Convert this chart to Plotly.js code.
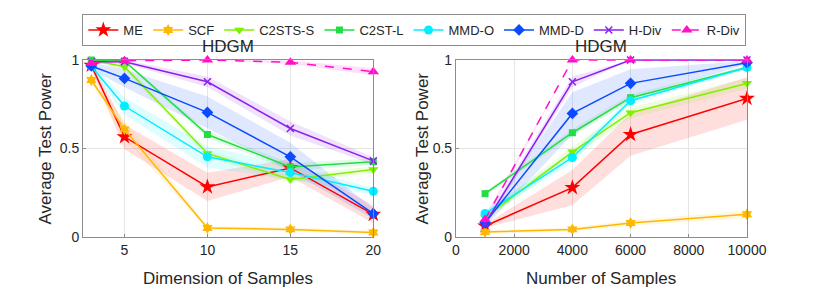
<!DOCTYPE html>
<html>
<head>
<meta charset="utf-8">
<script src="https://cdn.plot.ly/plotly-3.0.1.min.js"></script>
<style>html,body{margin:0;padding:0;background:#fff;}#chart{width:830px;height:297px;}</style>
</head>
<body>
<div id="chart"></div>
<script>
// ---- Data ----
const methods = ["ME", "SCF", "C2STS-S", "C2ST-L", "MMD-O", "MMD-D", "H-Div", "R-Div"];

// Left panel: dimension of samples
const dims = [3, 5, 10, 15, 20];
const dimME     = [0.97, 0.566, 0.283, 0.39, 0.128];
const dimSCF    = [0.887, 0.608, 0.051, 0.043, 0.025];
const dimC2STS  = [1.0, 0.962, 0.472, 0.325, 0.381];
const dimC2STL  = [1.0, 0.995, 0.579, 0.396, 0.425];
const dimMMDO   = [0.965, 0.74, 0.453, 0.364, 0.258];
const dimMMDD   = [0.966, 0.896, 0.704, 0.453, 0.132];
const dimHDiv   = [0.99, 0.99, 0.877, 0.613, 0.43];
const dimRDiv   = [0.982, 0.996, 1.0, 0.987, 0.934];

const dimSdME    = [0.02, 0.07, 0.08, 0.05, 0.05];
const dimSdSCF   = [0.02, 0.05, 0.01, 0.01, 0.01];
const dimSdC2STS = [0.005, 0.02, 0.02, 0.02, 0.02];
const dimSdC2STL = [0.005, 0.01, 0.02, 0.02, 0.02];
const dimSdMMDO  = [0.02, 0.05, 0.06, 0.04, 0.02];
const dimSdMMDD  = [0.02, 0.05, 0.09, 0.08, 0.03];
const dimSdHDiv  = [0.01, 0.01, 0.03, 0.04, 0.02];
const dimSdRDiv  = [0.01, 0.005, 0.0, 0.01, 0.02];

// Right panel: number of samples
const nSamples = [1000, 4000, 6000, 10000];
const nME    = [0.062, 0.279, 0.579, 0.783];
const nSCF   = [0.028, 0.043, 0.079, 0.128];
const nC2STS = [0.11, 0.481, 0.702, 0.868];
const nC2STL = [0.245, 0.589, 0.787, 0.958];
const nMMDO  = [0.133, 0.449, 0.77, 0.958];
const nMMDD  = [0.08, 0.698, 0.868, 0.985];
const nHDiv  = [0.075, 0.877, 1.0, 1.0];
const nRDiv  = [0.099, 1.0, 1.0, 1.0];

const nSdME    = [0.01, 0.1, 0.12, 0.12];
const nSdSCF   = [0.01, 0.01, 0.015, 0.02];
const nSdC2STS = [0.02, 0.03, 0.03, 0.03];
const nSdC2STL = [0.01, 0.02, 0.02, 0.01];
const nSdMMDO  = [0.02, 0.03, 0.02, 0.01];
const nSdMMDD  = [0.02, 0.12, 0.08, 0.01];
const nSdHDiv  = [0.02, 0.03, 0.0, 0.0];
const nSdRDiv  = [0.02, 0.0, 0.0, 0.0];

const yTickVals = [0, 0.5, 1];
const yTickText = ["0", "0.5", "1"];
const xLeftTicks = [5, 10, 15, 20];
const xRightTicks = [0, 2000, 4000, 6000, 8000, 10000];
const xRightTickText = ["0", "2000", "4000", "6000", "8000", "10000"];

// ---- Styles ----
const colors  = ["#FF0000", "#FFB800", "#7FF000", "#22DD44", "#00EEFF", "#0A4BFF", "#8A1FF0", "#FF10C8"];
const symbols = ["star", "hexagram", "triangle-down", "square", "circle", "diamond", "x-thin-open", "triangle-up"];
const sizes   = [12, 9, 9, 7, 9, 9, 7, 10];

const leftMeans  = [dimME, dimSCF, dimC2STS, dimC2STL, dimMMDO, dimMMDD, dimHDiv, dimRDiv];
const leftSds    = [dimSdME, dimSdSCF, dimSdC2STS, dimSdC2STL, dimSdMMDO, dimSdMMDD, dimSdHDiv, dimSdRDiv];
const rightMeans = [nME, nSCF, nC2STS, nC2STL, nMMDO, nMMDD, nHDiv, nRDiv];
const rightSds   = [nSdME, nSdSCF, nSdC2STS, nSdC2STL, nSdMMDO, nSdMMDD, nSdHDiv, nSdRDiv];

function rgba(hex, a) {
  const r = parseInt(hex.slice(1,3),16), g = parseInt(hex.slice(3,5),16), b = parseInt(hex.slice(5,7),16);
  return `rgba(${r},${g},${b},${a})`;
}

const traces = [];
function addBands(xs, means, sds, xa, ya) {
  means.forEach((m, i) => {
    const up = m.map((v, k) => Math.min(1, v + sds[i][k]));
    const lo = m.map((v, k) => Math.max(0, v - sds[i][k]));
    traces.push({
      x: xs.concat(xs.slice().reverse()),
      y: up.concat(lo.slice().reverse()),
      xaxis: xa, yaxis: ya,
      type: "scatter", mode: "lines", fill: "toself",
      fillcolor: rgba(colors[i], 0.13),
      line: {width: 0, color: rgba(colors[i], 0)},
      hoverinfo: "skip", showlegend: false
    });
  });
}
function addLines(xs, means, xa, ya, legend) {
  means.forEach((m, i) => {
    traces.push({
      x: xs, y: m, xaxis: xa, yaxis: ya,
      type: "scatter", mode: "lines+markers", cliponaxis: false,
      name: methods[i], showlegend: legend,
      line: {color: colors[i], width: 1.5, dash: i === 7 ? "dash" : "solid"},
      marker: {symbol: symbols[i], size: sizes[i], color: colors[i],
               line: {color: colors[i], width: i === 6 ? 1.5 : 0}}
    });
  });
}
addBands(dims, leftMeans, leftSds, "x", "y");
addBands(nSamples, rightMeans, rightSds, "x2", "y2");
addLines(dims, leftMeans, "x", "y", true);
addLines(nSamples, rightMeans, "x2", "y2", false);

const fontFam = "Liberation Sans, Arial, sans-serif";
const txt = "#262626";
const axisCommon = {
  showgrid: true, gridcolor: "#e6e6e6", gridwidth: 1,
  showline: true, linecolor: "#8c8c8c", linewidth: 1, mirror: true,
  zeroline: false, ticks: "inside", ticklen: 3, tickcolor: "#8c8c8c",
  tickfont: {family: fontFam, size: 14, color: txt}
};
const titleFont = {family: fontFam, size: 17, color: txt};

const layout = {
  width: 830, height: 297,
  margin: {l: 83, r: 83, t: 60, b: 60},
  paper_bgcolor: "#fff", plot_bgcolor: "#fff",
  font: {family: fontFam, color: txt},
  showlegend: true,
  legend: {
    orientation: "h", xref: "paper", yref: "paper",
    x: -0.001, xanchor: "left", y: 1 + 46 / 177, yanchor: "top",
    bordercolor: "#8c8c8c", borderwidth: 1, bgcolor: "#fff",
    font: {family: fontFam, size: 13, color: txt},
    itemwidth: 30, tracegroupgap: 0
  },
  xaxis: Object.assign({}, axisCommon, {
    domain: [0, 0.4372], range: [2.5, 20], tickvals: xLeftTicks
  }),
  yaxis: Object.assign({}, axisCommon, {
    range: [0, 1], tickvals: yTickVals, ticktext: yTickText
  }),
  xaxis2: Object.assign({}, axisCommon, {
    domain: [0.5617, 1], range: [0, 10000], tickvals: xRightTicks, ticktext: xRightTickText,
    anchor: "y2"
  }),
  yaxis2: Object.assign({}, axisCommon, {
    range: [0, 1], tickvals: yTickVals, ticktext: yTickText, anchor: "x2"
  }),
  annotations: [
    {text: "HDGM", xref: "x domain", yref: "paper", x: 0.5, y: 1.075, xanchor: "center", yanchor: "middle",
     showarrow: false, font: titleFont},
    {text: "HDGM", xref: "x2 domain", yref: "paper", x: 0.5, y: 1.075, xanchor: "center", yanchor: "middle",
     showarrow: false, font: titleFont},
    {text: "Dimension of Samples", xref: "x domain", yref: "paper", x: 0.5, y: -0.232, xanchor: "center", yanchor: "middle",
     showarrow: false, font: titleFont},
    {text: "Number of Samples", xref: "x2 domain", yref: "paper", x: 0.5, y: -0.232, xanchor: "center", yanchor: "middle",
     showarrow: false, font: titleFont},
    {text: "Average Test Power", xref: "paper", yref: "paper", x: (45 - 83) / 664, y: 0.5, xanchor: "center", yanchor: "middle",
     textangle: -90, showarrow: false, font: titleFont},
    {text: "Average Test Power", xref: "paper", yref: "paper", x: (422 - 83) / 664, y: 0.5, xanchor: "center", yanchor: "middle",
     textangle: -90, showarrow: false, font: titleFont}
  ]
};

Plotly.newPlot("chart", traces, layout, {displayModeBar: false, staticPlot: true});
</script>
</body>
</html>
